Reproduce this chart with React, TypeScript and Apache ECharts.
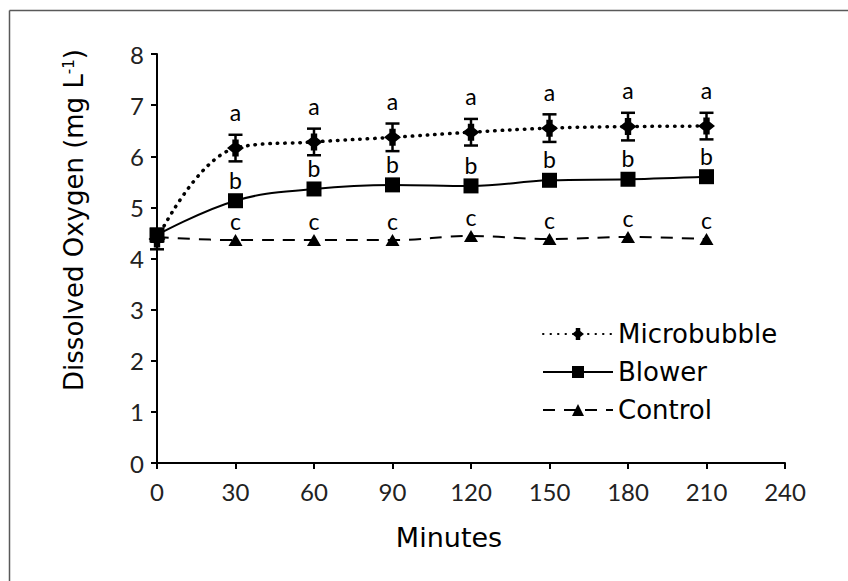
import React, { useEffect, useRef } from 'react';
import * as echarts from 'echarts';

const minutes = [0, 30, 60, 90, 120, 150, 180, 210];
const microbubble = [4.38, 6.16, 6.28, 6.37, 6.47, 6.55, 6.58, 6.59];
const microbubbleSd = [0.2, 0.26, 0.26, 0.27, 0.26, 0.27, 0.27, 0.26];
const blower = [4.46, 5.13, 5.36, 5.44, 5.42, 5.53, 5.55, 5.6];
const control = [4.42, 4.36, 4.36, 4.36, 4.44, 4.38, 4.42, 4.38];
const microLetters = ['', 'a', 'a', 'a', 'a', 'a', 'a', 'a'];
const blowerLetters = ['', 'b', 'b', 'b', 'b', 'b', 'b', 'b'];
const controlLetters = ['', 'c', 'c', 'c', 'c', 'c', 'c', 'c'];
const seriesNames = ['Microbubble', 'Blower', 'Control'];
const xTitle = 'Minutes';

const LETTER_FONT = 'Lato';
const TEXT_FONT = 'DejaVu Sans';

export default function App() {
  const ref = useRef<HTMLDivElement>(null);
  useEffect(() => {
    document.body.style.margin = '0';
    document.body.style.overflow = 'hidden';
    const chart = echarts.init(ref.current as HTMLDivElement, null, { renderer: 'svg' });
    const pair = (ys: number[]) => minutes.map((m, i) => [m, ys[i]]);
    const errData = minutes.map((m, i) => [m, microbubble[i] - microbubbleSd[i], microbubble[i] + microbubbleSd[i]]);
    const axisCommon = {
      axisLine: { show: true, lineStyle: { color: '#000', width: 2 } },
      axisTick: { show: true, length: 6, lineStyle: { color: '#000', width: 2 } },
      splitLine: { show: false },
    };
    const letterLabel = (letters: string[]) => ({
      show: true,
      position: 'top',
      distance: 2,
      fontFamily: LETTER_FONT,
      fontSize: 23,
      color: '#000',
      formatter: (p: any) => letters[p.dataIndex],
    });
    chart.setOption({
      animation: false,
      backgroundColor: '#fff',
      graphic: [
        {
          type: 'line',
          z: -10,
          shape: { x1: 9.5, y1: 10.5, x2: 860, y2: 10.5 },
          style: { stroke: '#595959', lineWidth: 1.5 },
          silent: true,
        },
        {
          type: 'line',
          z: -10,
          shape: { x1: 9.5, y1: 10.5, x2: 9.5, y2: 600 },
          style: { stroke: '#595959', lineWidth: 1.5 },
          silent: true,
        },
        {
          type: 'text',
          x: 74,
          y: 220,
          rotation: Math.PI / 2,
          style: {
            text: '{n|Dissolved Oxygen (mg L}{s|-1}{n|)}',
            align: 'center',
            verticalAlign: 'middle',
            rich: {
              n: { fontFamily: TEXT_FONT, fontSize: 26, fill: '#000' },
              s: { fontFamily: TEXT_FONT, fontSize: 15, fill: '#000', verticalAlign: 'top', padding: [0, 0, 11, 0] },
            },
          },
        },
        {
          type: 'text',
          x: 449,
          y: 537,
          style: {
            text: xTitle,
            align: 'center',
            verticalAlign: 'middle',
            fontFamily: TEXT_FONT,
            fontSize: 27,
            fill: '#000',
          },
        },
      ],
      grid: { left: 157, right: 63, top: 54, bottom: 118 },
      legend: {
        data: seriesNames,
        orient: 'vertical',
        left: 537,
        top: 316,
        itemWidth: 70,
        itemHeight: 15,
        itemGap: 12,
        textStyle: { fontFamily: TEXT_FONT, fontSize: 26, color: '#000' },
      },
      xAxis: {
        type: 'value',
        min: 0,
        max: 240,
        interval: 30,
        ...axisCommon,
        axisLabel: { fontFamily: LETTER_FONT, fontSize: 24, color: '#222', margin: 16 },
      },
      yAxis: {
        type: 'value',
        min: 0,
        max: 8,
        interval: 1,
        ...axisCommon,
        axisLabel: { fontFamily: LETTER_FONT, fontSize: 24, color: '#222', margin: 13 },
      },
      series: [
        {
          name: 'Microbubble',
          type: 'line',
          data: pair(microbubble),
          smooth: 0.4,
          symbol: 'path://M5,0H11V4L16,8L11,12V16H5V12L0,8L5,4Z',
          symbolSize: 17,
          itemStyle: { color: '#000' },
          lineStyle: { color: '#000', width: 3.5, type: [0.5, 7], cap: 'round' },
          z: 3,
        },
        {
          name: 'Blower',
          type: 'line',
          data: pair(blower),
          smooth: 0.4,
          symbol: 'rect',
          symbolSize: 15,
          itemStyle: { color: '#000' },
          lineStyle: { color: '#000', width: 2 },
          label: letterLabel(blowerLetters),
          z: 4,
        },
        {
          name: 'Control',
          type: 'line',
          data: pair(control),
          smooth: 0.4,
          symbol: 'triangle',
          symbolSize: [14, 12],
          itemStyle: { color: '#000' },
          lineStyle: { color: '#000', width: 2, type: [12, 9] },
          label: letterLabel(controlLetters),
          z: 3,
        },
        {
          name: 'err',
          type: 'custom',
          data: errData,
          z: 5,
          renderItem: (params: any, api: any) => {
            const x = api.value(0);
            const pLo = api.coord([x, api.value(1)]);
            const pHi = api.coord([x, api.value(2)]);
            const cap = 7;
            const st = { stroke: '#000', lineWidth: 2.5 };
            const children: any[] = [
              { type: 'line', shape: { x1: pLo[0], y1: pLo[1], x2: pHi[0], y2: pHi[1] }, style: st },
              { type: 'line', shape: { x1: pLo[0] - cap, y1: pLo[1], x2: pLo[0] + cap, y2: pLo[1] }, style: st },
              { type: 'line', shape: { x1: pHi[0] - cap, y1: pHi[1], x2: pHi[0] + cap, y2: pHi[1] }, style: st },
            ];
            const letter = microLetters[params.dataIndex];
            if (letter) {
              children.push({
                type: 'text',
                x: pHi[0],
                y: pHi[1] - 11,
                style: {
                  text: letter,
                  align: 'center',
                  verticalAlign: 'bottom',
                  fontFamily: LETTER_FONT,
                  fontSize: 23,
                  fill: '#000',
                },
              });
            }
            return { type: 'group', children };
          },
        },
      ],
    });
    return () => chart.dispose();
  }, []);
  return <div ref={ref} style={{ width: 848, height: 581 }} />;
}
